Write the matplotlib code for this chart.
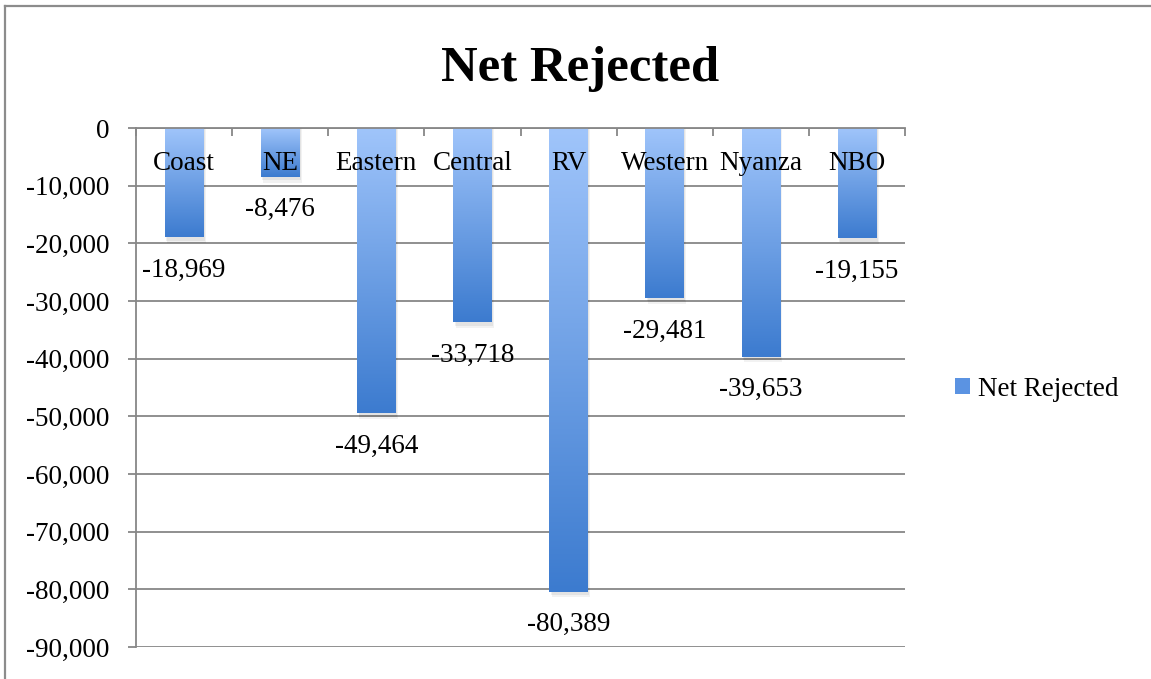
import matplotlib
matplotlib.use("Agg")
import matplotlib.pyplot as plt
import numpy as np
from matplotlib.colors import LinearSegmentedColormap
from matplotlib.patches import Rectangle
from matplotlib.lines import Line2D
from matplotlib.ticker import FuncFormatter, FixedLocator

categories = ["Coast", "NE", "Eastern", "Central", "RV", "Western", "Nyanza", "NBO"]
values = [-18969, -8476, -49464, -33718, -80389, -29481, -39653, -19155]
series_name = "Net Rejected"
title = "Net Rejected"
yticks = list(range(0, -90001, -10000))

# layout-only settings
label_offset_px = 33
W, H, DPI = 1151, 679, 100
FONT = ["Liberation Serif", "DejaVu Serif"]
FS = 19.5
GRID = "#878787"
TOP_C = "#a0c5fb"
BOT_C = "#3c7bcf"

plt.rcParams["font.family"] = FONT
fig = plt.figure(figsize=(W / DPI, H / DPI), dpi=DPI)
fig.patch.set_facecolor("white")
ax = fig.add_axes([136 / W, 1 - 647 / H, (905 - 136) / W, (647 - 128) / H])

x = np.arange(len(categories))
bw = 0.40
cmap = LinearSegmentedColormap.from_list("g", [TOP_C, BOT_C])
grad = np.linspace(0, 1, 256).reshape(-1, 1)

# bars (invisible base) + gradient fill + soft shadow
bars = ax.bar(x, values, width=bw, color="none", zorder=3)
for b in bars:
    x0, w = b.get_x(), b.get_width()
    y1 = b.get_height()
    for k, a in [(0.025, 0.05), (0.015, 0.06)]:
        sh = Rectangle((x0 + k, 0), w, y1 - k * 40000, facecolor="#000000", alpha=a,
                       edgecolor="none", zorder=2.5)
        ax.add_patch(sh)
    im = ax.imshow(grad, cmap=cmap, aspect="auto", extent=[x0, x0 + w, y1, 0],
                   origin="upper", zorder=3, interpolation="bilinear")
    im.set_clip_path(b)

ax.set_xlim(-0.5, len(categories) - 0.5)
ax.set_ylim(yticks[-1], 0)

# y axis
ax.yaxis.set_major_locator(FixedLocator(yticks))
ax.yaxis.set_major_formatter(FuncFormatter(lambda v, p: f"{int(v):,}"))
ax.tick_params(axis="y", direction="out", length=6, width=1.3, color=GRID,
               labelsize=FS, pad=13, labelcolor="black")
ax.grid(axis="y", color=GRID, linewidth=1.3, zorder=1)
ax.set_axisbelow(True)

# x axis at top (value 0) with tick marks between categories
ax.xaxis.set_major_locator(FixedLocator(np.arange(-0.5, len(categories), 1.0)))
ax.xaxis.tick_top()
ax.tick_params(axis="x", direction="in", length=6, width=1.3, color=GRID,
               labeltop=False, labelbottom=False, top=True, bottom=False)

for s in ["right", "bottom"]:
    ax.spines[s].set_visible(False)
for s in ["left", "top"]:
    ax.spines[s].set_color(GRID)
    ax.spines[s].set_linewidth(1.3)
    ax.spines[s].set_zorder(4)

# category labels
for i, c in enumerate(categories):
    ax.annotate(c, xy=(i, 0), xytext=(0, -35 * 72 / DPI), textcoords="offset points",
                ha="center", va="center", fontsize=FS, zorder=6)

# value labels
for i, v in enumerate(values):
    ax.annotate(f"{v:,}", xy=(i, v), xytext=(0, -label_offset_px * 72 / DPI),
                textcoords="offset points", ha="center", va="center",
                fontsize=FS, zorder=6)

# title
fig.text(580 / W, 1 - 69 / H, title, ha="center", va="center",
         fontsize=36.5, fontweight="bold")

# legend
handle = Rectangle((0, 0), 1, 1, facecolor="#5b93e2", edgecolor="none")
fig.legend([handle], [series_name], loc="center left",
           bbox_to_anchor=(955 / W, 1 - 389 / H), frameon=False,
           fontsize=FS, handlelength=0.55, handleheight=0.55, handletextpad=0.3,
           borderaxespad=0, borderpad=0)

# chart border (top and left visible)
fig.add_artist(Line2D([5 / W, 1], [1 - 6 / H, 1 - 6 / H], transform=fig.transFigure,
                      color="#8c8c8c", linewidth=1.6))
fig.add_artist(Line2D([5 / W, 5 / W], [0, 1 - 6 / H], transform=fig.transFigure,
                      color="#8c8c8c", linewidth=1.6))

fig.savefig("out.png", dpi=DPI, facecolor="white")
